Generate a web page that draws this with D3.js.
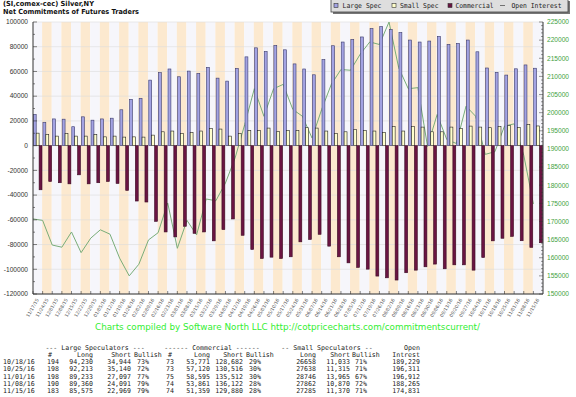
<!DOCTYPE html>
<html><head><meta charset="utf-8">
<script src="https://cdn.jsdelivr.net/npm/d3@7"></script>
<style>
html,body{margin:0;padding:0;background:#fff;}
svg{display:block;}
</style></head>
<body>
<svg id="c" width="576" height="397"></svg>
<script>
const dates = ["11/17/15","11/24/15","12/01/15","12/08/15","12/15/15","12/22/15","12/29/15",
"01/05/16","01/12/16","01/19/16","01/26/16","02/02/16","02/09/16","02/16/16","02/23/16",
"03/01/16","03/08/16","03/15/16","03/22/16","03/29/16","04/05/16","04/12/16","04/19/16","04/26/16",
"05/03/16","05/10/16","05/17/16","05/24/16","05/31/16","06/07/16","06/14/16","06/21/16","06/28/16",
"07/05/16","07/12/16","07/19/16","07/26/16","08/02/16","08/09/16","08/16/16","08/23/16","08/30/16",
"09/06/16","09/13/16","09/20/16","09/27/16","10/04/16","10/11/16","10/18/16","10/25/16","11/01/16","11/08/16","11/15/16"];

const largeSpec = [25200,18900,21600,21400,15300,23300,20600,21600,22200,29000,
37400,38300,53000,59000,62000,55700,60300,58400,63300,54600,
52200,62500,71800,79100,76100,81000,77500,66100,62000,57300,
69600,80800,83800,85900,87900,94700,96300,93900,91400,85400,
83800,84600,88400,81900,82700,85400,75900,62800,59286,57073,
62136,65269,62606];

const smallSpec = [10100,9000,7700,9900,7700,7700,9000,7100,7700,6900,
7100,6900,8500,11200,11800,9900,10700,11800,13900,13400,
7700,9900,12300,12300,14200,11500,12300,12300,14500,14200,
11800,9900,11200,12900,12300,11800,10700,15500,11800,15500,
15000,11200,11200,15000,13900,15800,15000,14500,15625,16323,
14781,16992,15915];

const commercial = [-35700,-29000,-30000,-30900,-23600,-30900,-30000,-29000,-30600,-36200,
-44800,-45600,-61200,-69800,-73800,-65200,-70900,-69800,-77000,-67900,
-59300,-72500,-84000,-91300,-90200,-91300,-89900,-77800,-75900,-71700,
-81300,-89900,-94800,-98500,-99900,-105500,-106900,-108700,-102800,-100700,
-98000,-95800,-99600,-96400,-96400,-100700,-90500,-77000,-74911,-73396,
-76917,-82261,-78521];

const openInterest = [170700,170300,163500,162900,167100,161400,165400,167700,166500,159900,
155000,158200,164900,166900,175100,162600,170300,166300,176200,175700,
180600,187500,196700,206600,199000,206600,207800,200900,199000,193000,
200900,207800,211900,211700,216100,219500,218800,225000,212400,206600,
206900,190700,199500,192600,191500,201800,199000,188500,189229,196311,
196912,188265,174831];

const leftTicks = [100000,80000,60000,40000,20000,0,-20000,-40000,-60000,-80000,-100000,-120000];
const rightTicks = [225000,220000,215000,210000,205000,200000,195000,190000,185000,180000,175000,170000,165000,160000,155000,150000];

const legendLabels = ["Large Spec","Small Spec","Commercial","Open Interest"];

// table
const tDates = ["10/18/16","10/25/16","11/01/16","11/08/16","11/15/16"];
const lsCount = [194,198,198,190,183];
const lsLong = [94230,92213,89233,89360,85575];
const lsShort = [34944,35140,27097,24091,22969];
const lsBull = [73,72,77,79,79];
const cmCount = [73,73,75,74,74];
const cmLong = [53771,57120,58595,53861,51359];
const cmShort = [128682,130516,135512,136122,129880];
const cmBull = [29,30,30,28,28];
const ssLong = [26658,27638,28746,27862,27285];
const ssShort = [11033,11315,13965,10870,11370];
const ssBull = [71,71,67,72,71];
const openInt = [189229,196311,196912,188265,174831];

const svg = d3.select("#c");
const L=33, R=543, T=22, B=294;

const x = d3.scaleBand().domain(dates).range([L,R]).padding(0);
const step = x.bandwidth();
const yL = d3.scaleLinear().domain([-120000,100000]).range([B,T]);
const yR = d3.scaleLinear().domain([150000,225000]).range([B,T]);

// stripes
const gS = svg.append("g");
dates.forEach((d,i)=>{
  const x0 = Math.max(L, x(d)-0.5), x1 = Math.min(R, x(d)+step-0.5 + (i===dates.length-1?1:0));
  gS.append("rect").attr("x",x0).attr("y",T).attr("width",x1-x0).attr("height",B-T)
    .attr("fill", i%2 ? "#fce9cf" : "#f6f6fb");
});

// grid
svg.append("g").selectAll("line").data(leftTicks).join("line")
  .attr("x1",L).attr("x2",R).attr("y1",d=>yL(d)).attr("y2",d=>yL(d))
  .attr("stroke","#dcdcdc").attr("stroke-width",0.6);

// open interest line (behind bars)
const line = d3.line().x((v,i)=>x(dates[i])).y(v=>yR(v));
svg.append("path").datum(openInterest).attr("d",line)
  .attr("fill","none").attr("stroke","#79ad79").attr("stroke-width",1);

// bars
const bw = 2.9;
const gB = svg.append("g");
gB.selectAll(".ls").data(largeSpec).join("rect")
  .attr("x",(v,i)=>x(dates[i])+0.3).attr("width",bw)
  .attr("y",v=>yL(Math.max(0,v))).attr("height",v=>Math.abs(yL(v)-yL(0)))
  .attr("fill","#a3a3e3").attr("stroke","#3a3a6a").attr("stroke-width",0.6);
gB.selectAll(".ss").data(smallSpec).join("rect")
  .attr("x",(v,i)=>x(dates[i])+3.2).attr("width",bw)
  .attr("y",v=>yL(Math.max(0,v))).attr("height",v=>Math.abs(yL(v)-yL(0)))
  .attr("fill","#ffffcc").attr("stroke","#222").attr("stroke-width",0.6);
gB.selectAll(".cm").data(commercial).join("rect")
  .attr("x",(v,i)=>x(dates[i])+6.1).attr("width",bw)
  .attr("y",v=>yL(Math.max(0,v))).attr("height",v=>Math.abs(yL(v)-yL(0)))
  .attr("fill","#6a1442").attr("stroke","#3a0a22").attr("stroke-width",0.6);

// axes lines
svg.append("line").attr("x1",L).attr("x2",L).attr("y1",T).attr("y2",B).attr("stroke","#333").attr("stroke-width",1);
svg.append("line").attr("x1",R).attr("x2",R).attr("y1",T).attr("y2",B).attr("stroke","#333").attr("stroke-width",1);
svg.append("line").attr("x1",L).attr("x2",R).attr("y1",B).attr("y2",B).attr("stroke","#333").attr("stroke-width",1);

// left ticks
const minorL = d3.range(-120000,100001,10000);
svg.append("g").selectAll("line").data(minorL).join("line")
  .attr("x1",L).attr("x2",d=>L+(d%20000===0?4:2)).attr("y1",d=>yL(d)).attr("y2",d=>yL(d))
  .attr("stroke","#333").attr("stroke-width",0.6);
svg.append("g").selectAll("text").data(leftTicks).join("text")
  .attr("x",28).attr("y",d=>yL(d)).attr("dy","0.35em").attr("text-anchor","end")
  .attr("font-family","Liberation Sans, Arial, sans-serif").attr("font-size",6.6).attr("fill","#333")
  .text(d=>d);

// right ticks
const minorR = d3.range(150000,225001,1000);
svg.append("g").selectAll("line").data(minorR).join("line")
  .attr("x1",R).attr("x2",d=>R-(d%5000===0?4:2)).attr("y1",d=>yR(d)).attr("y2",d=>yR(d))
  .attr("stroke","#333").attr("stroke-width",0.5);
svg.append("g").selectAll("text").data(rightTicks).join("text")
  .attr("x",547).attr("y",d=>yR(d)).attr("dy","0.35em")
  .attr("font-family","Liberation Sans, Arial, sans-serif").attr("font-size",6.6).attr("fill","#3f9f3f")
  .text(d=>d);

// x ticks and labels
svg.append("g").selectAll("line").data(dates).join("line")
  .attr("x1",d=>x(d)).attr("x2",d=>x(d)).attr("y1",B).attr("y2",B-3)
  .attr("stroke","#333").attr("stroke-width",0.6);
svg.append("g").selectAll("text").data(dates).join("text")
  .attr("transform",d=>`translate(${x(d)+step/2},299) rotate(-60)`)
  .attr("text-anchor","end").attr("dy","0.3em")
  .attr("font-family","DejaVu Sans, sans-serif").attr("font-size",4.6).attr("fill","#555")
  .text(d=>d);

// title
svg.append("text").attr("x",3).attr("y",6).attr("font-family","DejaVu Sans, sans-serif")
  .attr("font-weight","bold").attr("font-size",7).attr("fill","#111")
  .attr("textLength",91).attr("lengthAdjust","spacingAndGlyphs").text("(SI,comex-cec) Silver,NY");
svg.append("text").attr("x",3).attr("y",13.5).attr("font-family","DejaVu Sans, sans-serif")
  .attr("font-weight","bold").attr("font-size",7).attr("fill","#111")
  .attr("textLength",136).attr("lengthAdjust","spacingAndGlyphs").text("Net Commitments of Futures Traders");

// legend
const lg = svg.append("g");
lg.append("rect").attr("x",333).attr("y",1).attr("width",237).attr("height",13).attr("fill","#777");
lg.append("rect").attr("x",331).attr("y",-1).attr("width",237).attr("height",13)
  .attr("fill","#dedede").attr("stroke","#444").attr("stroke-width",0.8);
const legX = [334, 392, 448, 500];
const legTX = [342.5, 400, 455.5, 511.5];
const legW = [39, 38.5, 38, 50];
const legFill = ["#a3a3e3","#ffffcc","#6a1442",null];
legendLabels.forEach((lab,i)=>{
  if(legFill[i]) lg.append("rect").attr("x",legX[i]).attr("y",3.5).attr("width",4).attr("height",4)
      .attr("fill",legFill[i]).attr("stroke","#333").attr("stroke-width",0.6);
  else lg.append("line").attr("x1",legX[i]).attr("x2",legX[i]+5).attr("y1",5.5).attr("y2",5.5)
      .attr("stroke","#555").attr("stroke-width",0.8);
  lg.append("text").attr("x",legTX[i]).attr("y",8).attr("font-family","DejaVu Sans Mono, monospace")
    .attr("font-size",6.8).attr("fill","#222").attr("textLength",legW[i]).attr("lengthAdjust","spacingAndGlyphs").text(lab);
});

// credit
svg.append("text").attr("x",95).attr("y",330).attr("font-family","DejaVu Sans, sans-serif")
  .attr("font-size",8.5).attr("fill","#33ee33").attr("textLength",385).attr("lengthAdjust","spacingAndGlyphs")
  .text("Charts compiled by Software North LLC  http://cotpricecharts.com/commitmentscurrent/");

// table
const tg = svg.append("g").attr("font-family","DejaVu Sans Mono, monospace").attr("font-size",6.6).attr("fill","#222");
const fmt = d3.format(",");
function t(xp, yp, s, anchor){ tg.append("text").attr("x",xp).attr("y",yp).attr("text-anchor",anchor||"start").text(s); }
const h1=349.5, rs=7.3, h2=h1+rs, r0=h2+rs;
t(95,h1,"--- Large Speculators ---","middle");
t(212,h1,"------ Commercial ------","middle");
t(327,h1,"-- Small Speculators --","middle");
t(420,h1,"Open","end");
t(50,h2,"#","middle"); t(93,h2,"Long","end"); t(131,h2,"Short","end"); t(134,h2,"Bullish");
t(170,h2,"#","middle"); t(210,h2,"Long","end"); t(243,h2,"Short","end"); t(246,h2,"Bullish");
t(316,h2,"Long","end"); t(350,h2,"Short","end"); t(352,h2,"Bullish");
t(420,h2,"Intrest","end");
tDates.forEach((d,i)=>{
  const yy = r0 + i*rs;
  t(3,yy,d);
  t(59,yy,lsCount[i],"end");
  t(93,yy,fmt(lsLong[i]),"end");
  t(131,yy,fmt(lsShort[i]),"end");
  t(137,yy,lsBull[i]+"%");
  t(166,yy,cmCount[i]);
  t(210,yy,fmt(cmLong[i]),"end");
  t(243,yy,fmt(cmShort[i]),"end");
  t(249,yy,cmBull[i]+"%");
  t(316,yy,ssLong[i],"end");
  t(350,yy,fmt(ssShort[i]),"end");
  t(355,yy,ssBull[i]+"%");
  t(420,yy,fmt(openInt[i]),"end");
});
</script>
</body></html>
